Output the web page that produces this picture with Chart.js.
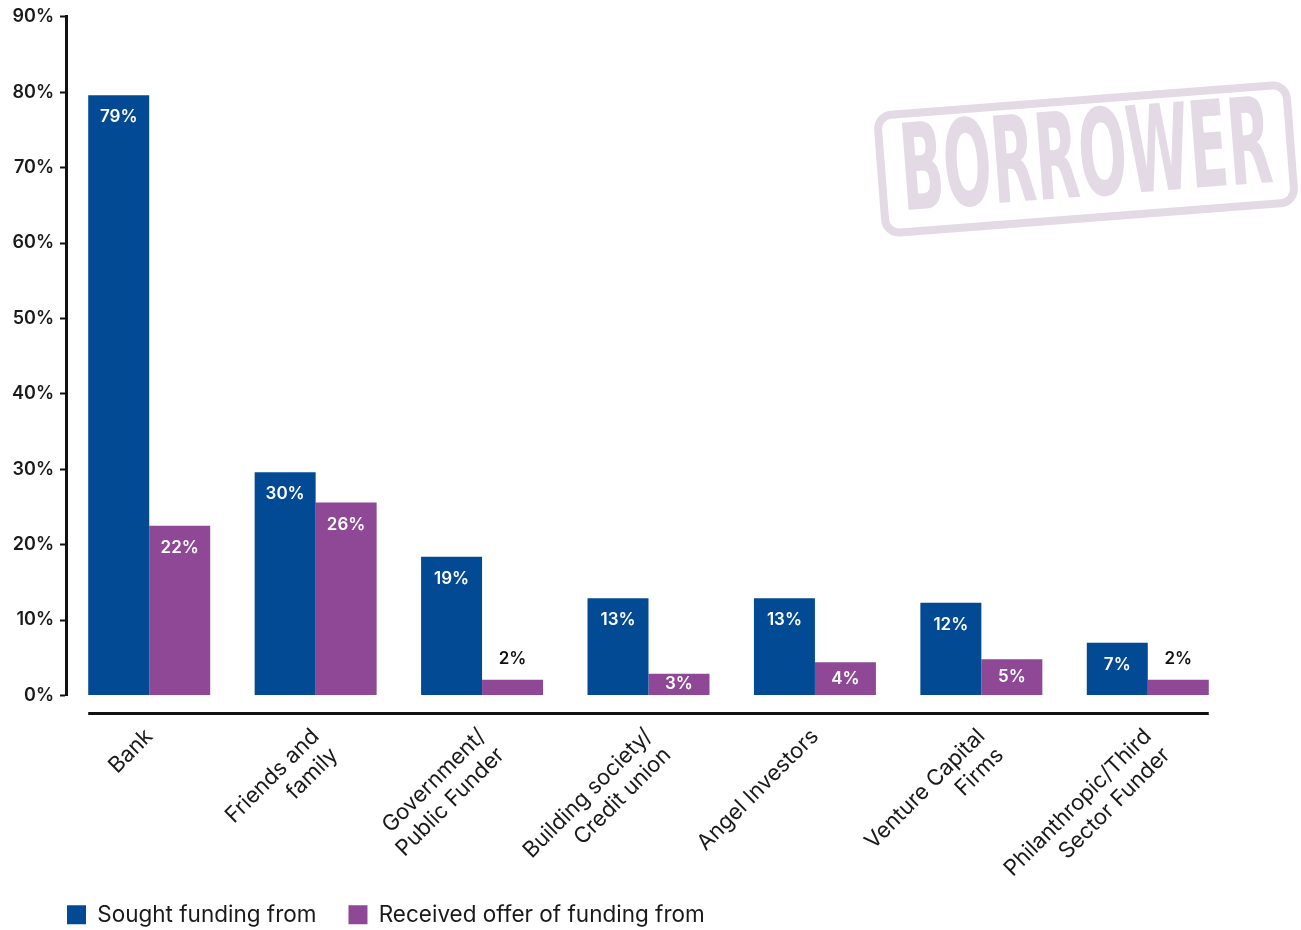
<!DOCTYPE html>
<html>
<head>
<meta charset="utf-8">
<script src="https://cdn.jsdelivr.net/npm/chart.js@4.4.0/dist/chart.umd.min.js"></script>
<style>
  html, body { margin: 0; padding: 0; background: #fff; }
  #wrap { width: 1301px; height: 930px; position: relative; }
</style>
</head>
<body>
<div id="wrap"><canvas id="fundingChart"></canvas></div>
<script>
// categories (multi-line labels)
const categories = [
  ['Bank'],
  ['Friends and', 'family'],
  ['Government/', 'Public Funder'],
  ['Building society/', 'Credit union'],
  ['Angel Investors'],
  ['Venture Capital', 'Firms'],
  ['Philanthropic/Third', 'Sector Funder']
];

// values
const soughtValues = [79.6, 29.6, 18.4, 12.9, 12.9, 12.3, 7.0];
const receivedValues = [22.5, 25.6, 2.1, 2.9, 4.4, 4.8, 2.1];

// printed labels on the bars
const soughtLabels = ['79%', '30%', '19%', '13%', '13%', '12%', '7%'];
const receivedLabels = ['22%', '26%', '2%', '3%', '4%', '5%', '2%'];

const yTicks = [0, 10, 20, 30, 40, 50, 60, 70, 80, 90];

const BLUE = '#034a94';
const PURPLE = '#8e4896';
const FONT = 'Inter, "Noto Sans", sans-serif';

// stamp watermark in the top right corner
const stampPlugin = {
  id: 'stamp',
  beforeDraw(chart) {
    const ctx = chart.ctx;
    ctx.save();
    ctx.translate(1086, 159);
    ctx.rotate(-4.4 * Math.PI / 180);
    ctx.strokeStyle = '#e3dae6';
    ctx.lineWidth = 8;
    const w = 410, h = 118, r = 14;
    ctx.beginPath();
    ctx.roundRect(-w / 2, -h / 2, w, h, r);
    ctx.stroke();
    ctx.fillStyle = '#e3dae6';
    ctx.font = 'bold 120px "Liberation Sans Narrow", "DejaVu Sans Condensed", sans-serif';
    ctx.textAlign = 'center';
    ctx.textBaseline = 'middle';
    const tw = ctx.measureText('BORROWER').width;
    ctx.scale(372 / tw, 1);
    ctx.fillText('BORROWER', 0, 6);
    ctx.restore();
  }
};

// legend starts at the axis line; tick labels may run down to the legend
const layoutTweakPlugin = {
  id: 'layoutTweak',
  afterLayout(chart) {
    const lg = chart.legend;
    lg.left += 35;
    lg.right += 35;
    lg.top += 6;
    lg.bottom += 6;
    chart.scales.x.bottom = chart.height;
  }
};

// separate baseline under the bars
const baselinePlugin = {
  id: 'baseline',
  afterDraw(chart) {
    const m0 = chart.getDatasetMeta(0).data;
    const m1 = chart.getDatasetMeta(1).data;
    const left = m0[0].x - m0[0].width / 2;
    const last = m1[m1.length - 1];
    const right = last.x + last.width / 2;
    const y = chart.chartArea.bottom + 18;
    const ctx = chart.ctx;
    ctx.save();
    ctx.strokeStyle = '#111';
    ctx.lineWidth = 3;
    ctx.beginPath();
    ctx.moveTo(left, y);
    ctx.lineTo(right, y);
    ctx.stroke();
    ctx.restore();
  }
};

// value labels on the bars
const valueLabelPlugin = {
  id: 'valueLabels',
  afterDatasetsDraw(chart) {
    const ctx = chart.ctx;
    const sets = [soughtLabels, receivedLabels];
    ctx.save();
    ctx.font = '600 17px ' + FONT;
    ctx.textAlign = 'center';
    ctx.textBaseline = 'middle';
    sets.forEach((labels, di) => {
      chart.getDatasetMeta(di).data.forEach((bar, i) => {
        const hgt = bar.base - bar.y;
        let y, color;
        if (hgt < 20) {
          y = bar.y - 21;
          color = '#111';
        } else if (hgt < 45) {
          y = bar.y + hgt / 2;
          color = '#fff';
        } else {
          y = bar.y + 22;
          color = '#fff';
        }
        ctx.fillStyle = color;
        ctx.fillText(labels[i], bar.x, y);
      });
    });
    ctx.restore();
  }
};

new Chart(document.getElementById('fundingChart'), {
  type: 'bar',
  data: {
    labels: categories,
    datasets: [
      {
        label: 'Sought funding from',
        data: soughtValues,
        backgroundColor: BLUE,
        borderWidth: 0
      },
      {
        label: 'Received offer of funding from',
        data: receivedValues,
        backgroundColor: PURPLE,
        borderWidth: 0
      }
    ]
  },
  options: {
    responsive: true,
    maintainAspectRatio: false,
    animation: false,
    datasets: {
      bar: { categoryPercentage: 0.733, barPercentage: 1.0 }
    },
    layout: { padding: { left: 0, right: 70, top: 15, bottom: 0 } },
    plugins: {
      tooltip: { enabled: false },
      legend: {
        position: 'bottom',
        align: 'start',
        labels: {
          boxWidth: 19,
          boxHeight: 19,
          padding: 32,
          color: '#1a1a1a',
          font: { family: FONT, size: 22.5 }
        }
      }
    },
    scales: {
      x: {
        grid: { display: false },
        border: { display: false },
        ticks: {
          color: '#1a1a1a',
          font: { family: FONT, size: 22 },
          minRotation: 45,
          maxRotation: 45,
          padding: 20
        },
        afterFit(scale) { scale.height = 170; }
      },
      y: {
        min: 0,
        max: 90,
        afterBuildTicks(scale) {
          scale.ticks = yTicks.map(v => ({ value: v }));
        },
        grid: {
          drawOnChartArea: false,
          drawTicks: true,
          tickLength: 6,
          tickWidth: 2,
          tickColor: '#111'
        },
        border: { display: true, color: '#111', width: 3 },
        ticks: {
          color: '#1a1a1a',
          padding: 6,
          font: { family: FONT, size: 18, weight: '600' },
          callback: v => v + '%'
        },
        afterFit(scale) { scale.width = 66; }
      }
    }
  },
  plugins: [stampPlugin, layoutTweakPlugin, baselinePlugin, valueLabelPlugin]
});
</script>
</body>
</html>
